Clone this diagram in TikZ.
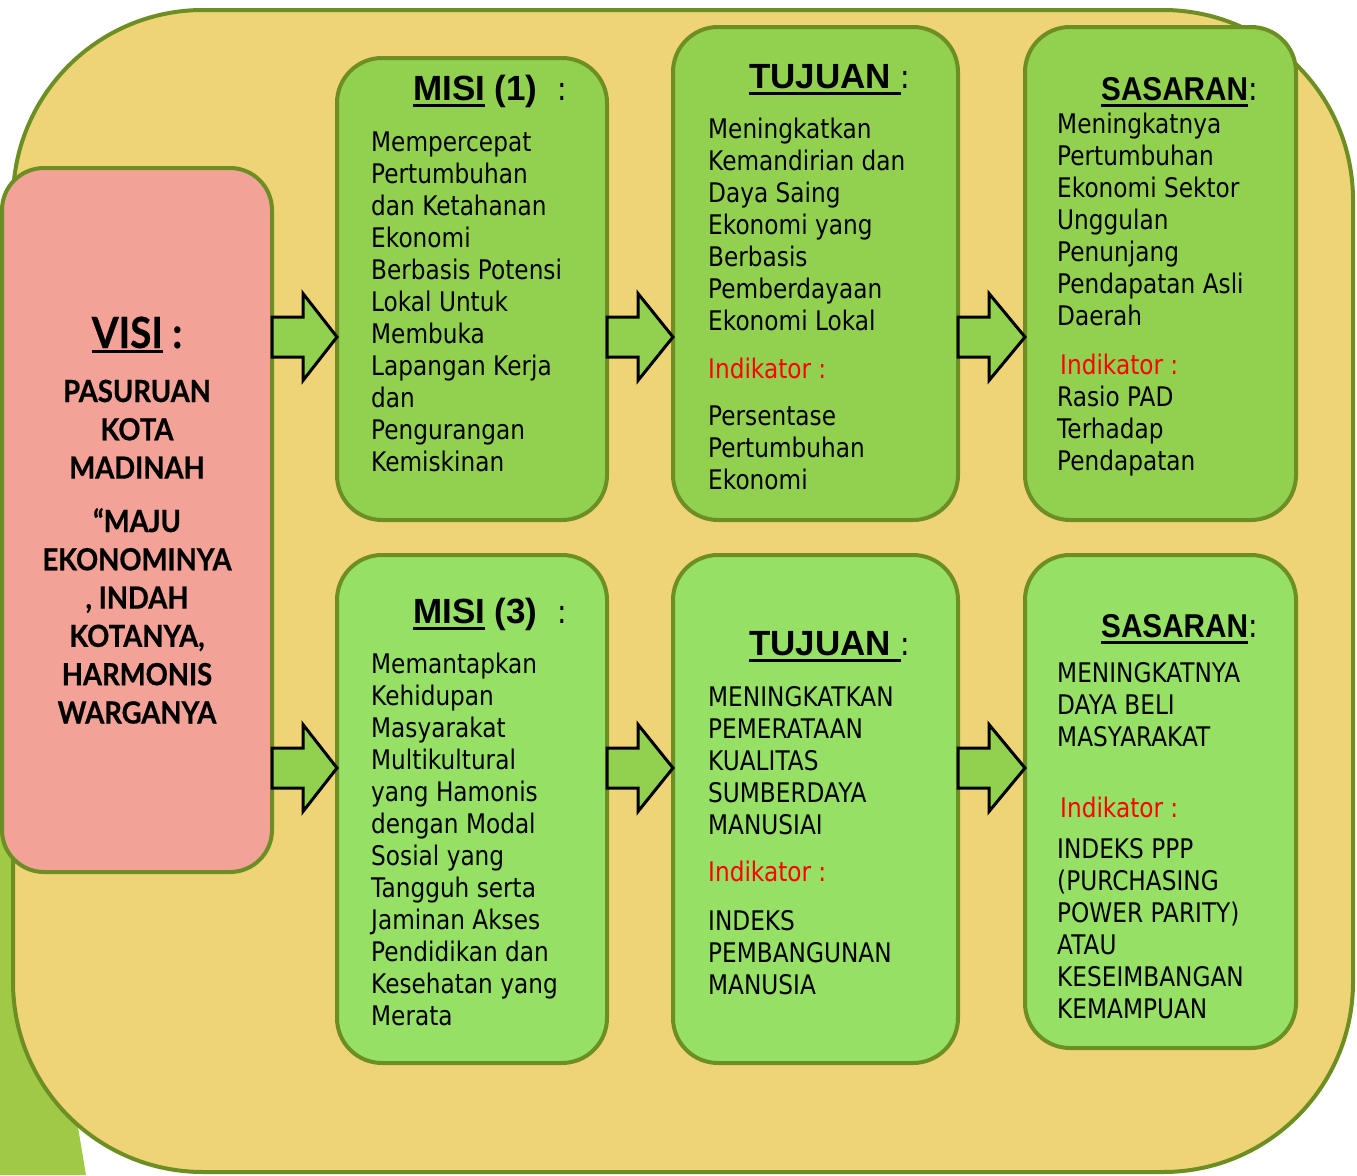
\documentclass[tikz,border=0pt]{standalone}
\usepackage{fontspec}
\usetikzlibrary{calc}
\newfontfamily\bodyfont[FakeStretch=0.86]{DejaVu Sans}
\newfontfamily\hdfont{Liberation Sans}
\newfontfamily\hdfontS[FakeStretch=0.9]{Liberation Sans}
\newfontfamily\visifont[FakeStretch=0.9,BoldFeatures={FakeBold=0.6}]{Lato}
\definecolor{bordc}{RGB}{108,142,35}
\definecolor{yellowc}{RGB}{239,212,119}
\definecolor{pinkc}{RGB}{242,162,151}
\definecolor{greenA}{RGB}{146,208,80}
\definecolor{greenB}{RGB}{149,224,101}
\definecolor{triac}{RGB}{160,202,70}
\definecolor{redc}{RGB}{255,0,0}
\newcommand\myul[2][7pt]{\setbox0\hbox{#2}\rlap{\rule[-#1]{\wd0}{3.5pt}}\box0\relax}
\newcommand\txtlines[1]{\parbox[t]{320pt}{\raggedright #1}}
\newcommand\bodysz{\bodyfont\fontsize{27}{32}\selectfont}
\newcommand\visisz{\visifont\bfseries\fontsize{30.5}{38.3}\selectfont}
\newcommand\hdsz{\hdfont\bfseries\fontsize{35}{35}\selectfont}
\newcommand\colsz{\bodyfont\mdseries\fontsize{33}{33}\selectfont}
\newcommand\blockarr[3]{%
  \coordinate (#1#2s) at (#1.east |- 0,#3);
  \coordinate (#1#2t) at (#2.west |- 0,#3);
  \draw[barrow] ($(#1#2s)+(0,-20)$) -- ($(#1#2s)+(31,-20)$) -- ($(#1#2s)+(31,-43.5)$)
    -- (#1#2t) -- ($(#1#2s)+(31,43.5)$) -- ($(#1#2s)+(31,20)$) -- ($(#1#2s)+(0,20)$) -- cycle;}
\begin{document}
\begin{tikzpicture}[x=1pt,y=-1pt,
  bd/.style={draw=bordc, line width=4pt, inner sep=0pt, outer sep=0pt, anchor=north west},
  gbox/.style={bd, rounded corners=45pt},
  barrow/.style={draw=black, line width=3pt, line join=miter, fill=greenA},
  txt/.style={anchor=base west, inner sep=0pt, font=\bodysz},
  redtxt/.style={txt, text=redc},
  hd/.style={anchor=base west, inner sep=0pt, font=\hdsz},
  vtxt/.style={anchor=base, inner sep=0pt, font=\visisz}]
\useasboundingbox (0,0) rectangle (1357,1175);
% green shape behind
\fill[triac] (0,780) -- (20,780) -- (86,1175) -- (0,1175) -- cycle;
% background
\node[bd, fill=yellowc, rounded corners=190pt, minimum width=1340pt, minimum height=1162pt] (bg) at (13,10) {};
% VISI
\node[bd, fill=pinkc, rounded corners=42pt, minimum width=270pt, minimum height=704pt] (visi) at (2,168) {};
% boxes
\node[gbox, fill=greenA, minimum width=270pt, minimum height=462pt] (m1) at (337,58) {};
\node[gbox, fill=greenA, minimum width=285pt, minimum height=493pt] (t1) at (673,27) {};
\node[gbox, fill=greenA, minimum width=271pt, minimum height=493pt] (s1) at (1025,27) {};
\node[gbox, fill=greenB, minimum width=270pt, minimum height=508pt] (m3) at (337,555) {};
\node[gbox, fill=greenB, minimum width=285pt, minimum height=508pt] (t3) at (673,555) {};
\node[gbox, fill=greenB, minimum width=271pt, minimum height=493pt] (s3) at (1025,555) {};
% arrows
\blockarr{visi}{m1}{337}
\blockarr{m1}{t1}{337}
\blockarr{t1}{s1}{337}
\blockarr{visi}{m3}{768}
\blockarr{m3}{t3}{768}
\blockarr{t3}{s3}{768}
% VISI text
\node[anchor=base, inner sep=0pt] (vh) at (137,348) {\visifont\bfseries\fontsize{43}{43}\selectfont\myul[5pt]{VISI} :};
\node[vtxt] (v1) at (137,402) {\parbox[t]{270pt}{\centering PASURUAN\\KOTA\\MADINAH}};
\node[vtxt] (v2) at (137,532) {\parbox[t]{270pt}{\centering “MAJU\\EKONOMINYA\\, INDAH\\KOTANYA,\\HARMONIS\\WARGANYA}};
% MISI 1
\node[hd] (m1h) at (413,100) {\myul{MISI} (1)\hspace{20pt}{\colsz :}};
\node[txt] (m1b) at (371,151) {\txtlines{Mempercepat\\Pertumbuhan\\dan Ketahanan\\Ekonomi\\Berbasis Potensi\\Lokal Untuk\\Membuka\\Lapangan Kerja\\dan\\Pengurangan\\Kemiskinan}};
% TUJUAN 1
\node[hd] (t1h) at (749,88) {\myul{TUJUAN\ }{\colsz :}};
\node[txt] (t1b) at (708,138) {\txtlines{Meningkatkan\\Kemandirian dan\\Daya Saing\\Ekonomi yang\\Berbasis\\Pemberdayaan\\Ekonomi Lokal}};
\node[redtxt] (t1i) at (708,378) {Indikator :};
\node[txt] (t1l) at (708,425) {\txtlines{Persentase\\Pertumbuhan\\Ekonomi}};
% SASARAN 1
\node[hd, font=\hdfontS\bfseries\fontsize{33}{33}\selectfont] (s1h) at (1101,100) {\myul{SASARAN}{\colsz :}};
\node[txt] (s1b) at (1057,133) {\txtlines{Meningkatnya\\Pertumbuhan\\Ekonomi Sektor\\Unggulan\\Penunjang\\Pendapatan Asli\\Daerah}};
\node[redtxt] (s1i) at (1060,374) {Indikator :};
\node[txt] (s1l) at (1057,406) {\txtlines{Rasio PAD\\Terhadap\\Pendapatan}};
% MISI 3
\node[hd] (m3h) at (413,623) {\myul{MISI} (3)\hspace{20pt}{\colsz :}};
\node[txt] (m3b) at (371,673) {\txtlines{Memantapkan\\Kehidupan\\Masyarakat\\Multikultural\\yang Hamonis\\dengan Modal\\Sosial yang\\Tangguh serta\\Jaminan Akses\\Pendidikan dan\\Kesehatan yang\\Merata}};
% TUJUAN 3
\node[hd] (t3h) at (749,655) {\myul{TUJUAN\ }{\colsz :}};
\node[txt] (t3b) at (708,706) {\txtlines{MENINGKATKAN\\PEMERATAAN\\KUALITAS\\SUMBERDAYA\\MANUSIAI}};
\node[redtxt] (t3i) at (708,881) {Indikator :};
\node[txt] (t3l) at (708,930) {\txtlines{INDEKS\\PEMBANGUNAN\\MANUSIA}};
% SASARAN 3
\node[hd, font=\hdfontS\bfseries\fontsize{33}{33}\selectfont] (s3h) at (1101,637) {\myul{SASARAN}{\colsz :}};
\node[txt] (s3b) at (1057,682) {\txtlines{MENINGKATNYA\\DAYA BELI\\MASYARAKAT}};
\node[redtxt] (s3i) at (1060,817) {Indikator :};
\node[txt] (s3l) at (1057,858) {\txtlines{INDEKS PPP\\(PURCHASING\\POWER PARITY)\\ATAU\\KESEIMBANGAN\\KEMAMPUAN}};
\end{tikzpicture}
\end{document}
